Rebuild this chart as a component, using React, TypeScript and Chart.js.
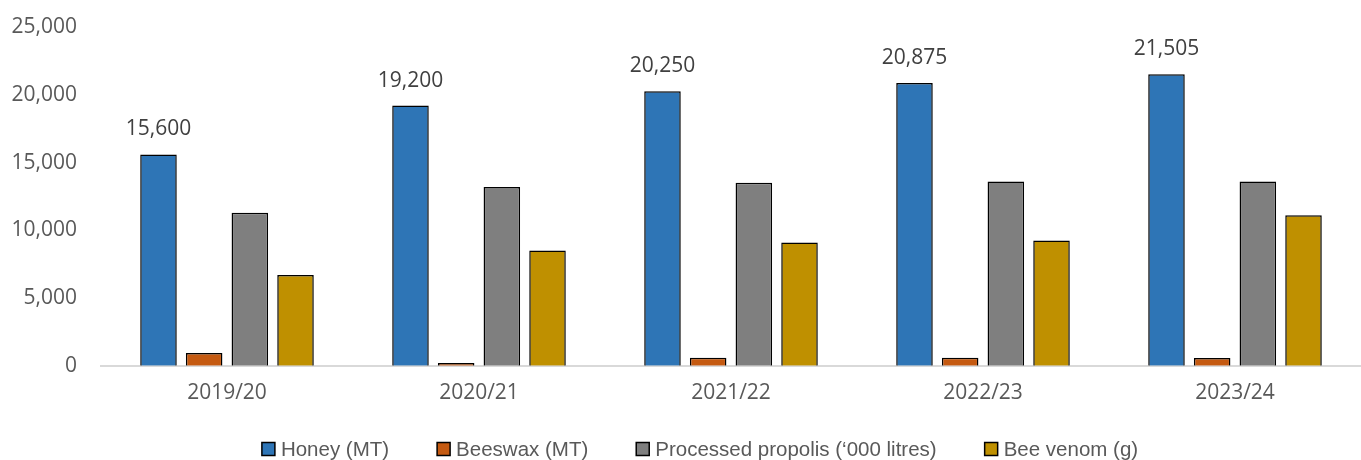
import React, { useEffect, useRef } from "react";
import { Chart, registerables } from "chart.js";

Chart.register(...registerables);

const categories = ["2019/20", "2020/21", "2021/22", "2022/23", "2023/24"];
const honey = [15600, 19200, 20250, 20875, 21505];
const beeswax = [950, 200, 600, 600, 580];
const propolis = [11300, 13200, 13500, 13600, 13600];
const venom = [6700, 8500, 9100, 9250, 11100];
const yTicks = [0, 5000, 10000, 15000, 20000, 25000];
const seriesNames = ["Honey (MT)", "Beeswax (MT)", "Processed propolis (‘000 litres)", "Bee venom (g)"];
const seriesColors = ["#2E75B6", "#C55A11", "#7F7F7F", "#BF9000"];

const tickFont = "'Open Sans', sans-serif";
const legendFont = "20.5px 'Liberation Sans', sans-serif";

const labelPlugin = {
  id: "honeyLabels",
  afterDatasetsDraw(chart: any) {
    const ctx = chart.ctx;
    const meta = chart.getDatasetMeta(0);
    ctx.save();
    ctx.font = `21px ${tickFont}`;
    ctx.fillStyle = "#404040";
    ctx.textAlign = "center";
    ctx.textBaseline = "middle";
    meta.data.forEach((bar: any, i: number) => {
      ctx.fillText(honey[i].toLocaleString("en-US"), bar.x, bar.y - 25);
    });
    ctx.restore();
  },
};

const legendPlugin = {
  id: "bottomLegend",
  afterDraw(chart: any) {
    const ctx = chart.ctx;
    const ds = chart.data.datasets;
    const box = 13;
    const boxGap = 6;
    const itemGap = 48;
    ctx.save();
    ctx.font = legendFont;
    const widths = ds.map((d: any) => ctx.measureText(d.label).width);
    const total = widths.reduce((a: number, w: number) => a + box + boxGap + w, 0) + itemGap * (ds.length - 1);
    let x = 700 - total / 2;
    const cy = 449;
    ctx.textBaseline = "middle";
    ctx.textAlign = "left";
    ds.forEach((d: any, i: number) => {
      ctx.fillStyle = d.backgroundColor;
      ctx.fillRect(x, cy - box / 2, box, box);
      ctx.strokeStyle = "#000000";
      ctx.lineWidth = 1.5;
      ctx.strokeRect(x, cy - box / 2, box, box);
      ctx.fillStyle = "#595959";
      ctx.fillText(d.label, x + box + boxGap, cy + 1);
      x += box + boxGap + widths[i] + itemGap;
    });
    ctx.restore();
  },
};

export default function App() {
  const ref = useRef<HTMLCanvasElement>(null);
  useEffect(() => {
    if (!ref.current) return;
    const data = [honey, beeswax, propolis, venom];
    const chart = new Chart(ref.current, {
      type: "bar",
      data: {
        labels: categories,
        datasets: data.map((d, i) => ({
          label: seriesNames[i],
          data: d,
          backgroundColor: seriesColors[i],
          borderColor: "#000000",
          borderWidth: 1.5,
          categoryPercentage: 0.725,
          barPercentage: 0.8,
        })),
      },
      options: {
        responsive: false,
        animation: false,
        maintainAspectRatio: false,
        layout: { padding: { top: 27, right: -8, left: 0, bottom: 39 } },
        plugins: {
          tooltip: { enabled: false },
          legend: { display: false },
        },
        scales: {
          x: {
            grid: { display: false, drawTicks: false },
            border: { display: true, color: "#D9D9D9", width: 2 },
            ticks: { font: { family: tickFont, size: 21 }, color: "#595959", padding: 15 },
          },
          y: {
            min: 0,
            max: 25000,
            grid: { display: false, drawTicks: false },
            border: { display: false },
            afterFit: (s: any) => {
              s.width = 101;
              s.paddingTop = 0;
              s.paddingBottom = 0;
            },
            afterBuildTicks: (s: any) => {
              s.ticks = yTicks.map((v) => ({ value: v }));
            },
            ticks: {
              padding: 24,
              font: { family: tickFont, size: 21 },
              color: "#595959",
              callback: (v: any) => Number(v).toLocaleString("en-US"),
            },
          },
        },
      },
      plugins: [labelPlugin, legendPlugin],
    });
    return () => chart.destroy();
  }, []);
  return (
    <div style={{ position: "absolute", left: 0, top: 0, width: 1361, height: 460, background: "#fff" }}>
      <canvas ref={ref} width={1361} height={460} />
    </div>
  );
}
